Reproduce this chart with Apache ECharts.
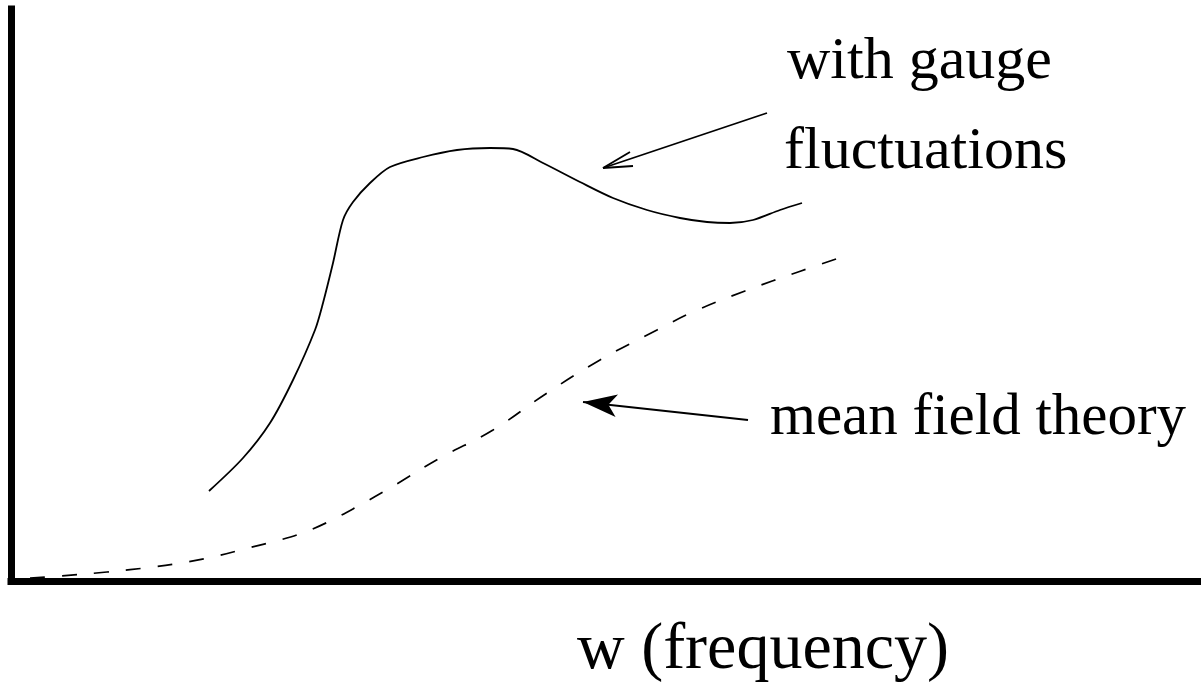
<!DOCTYPE html>
<html>
<head>
<meta charset="utf-8">
<title>w (frequency)</title>
<script src="https://cdn.jsdelivr.net/npm/echarts@6/dist/echarts.min.js"></script>
<style>
  html, body { margin: 0; padding: 0; background: #fff; }
  #main { width: 1201px; height: 682px; }
</style>
</head>
<body>
<div id="main"></div>
<script>
  // curve with gauge fluctuations: [w, response] (arbitrary units)
  var gaugeW = [198, 232, 259, 282, 304, 312, 322, 332, 342, 359, 379, 412, 446, 479, 502, 532, 569, 602, 636, 669, 696, 719, 742, 769, 791];
  var gaugeY = [90, 123, 158, 201, 251, 278, 318, 361, 379, 398, 414, 424, 431, 433, 432, 418, 399, 383, 371, 363, 359, 358, 361, 371, 378];
  // mean field theory curve
  var mftW = [19, 49, 96, 142, 176, 206, 237, 269, 294, 319, 349, 379, 429, 482, 536, 589, 646, 684, 734, 790, 834];
  var mftY = [3, 5, 9, 14, 19, 25, 33, 41, 49, 60, 76, 93, 123, 151, 188, 221, 251, 270, 290, 310, 325];

  // annotation arrows (same units): tail -> tip
  var arrowGauge = [[756, 468], [592, 413]];
  var arrowGaugeHead = [[619, 429], [622, 415]];
  var arrowMft = [[737, 161], [572, 179]];

  var labelGauge = ['with gauge', 'fluctuations'];
  var labelMft = 'mean field theory';
  var labelX = 'w (frequency)';

  function pairs(xs, ys) {
    var out = [];
    for (var i = 0; i < xs.length; i++) out.push([xs[i], ys[i]]);
    return out;
  }

  var serif = '"Liberation Serif", "DejaVu Serif", serif';
  var black = '#000';
  var solid = { type: 'solid', color: black, width: 1.8 };

  var myChart = echarts.init(document.getElementById('main'));
  var option = {
    animation: false,
    grid: { left: 11, right: 0, top: 9, bottom: 101 },
    xAxis: {
      type: 'value', min: 0, max: 1190,
      axisLine: { show: true, lineStyle: { color: black, width: 7, cap: 'square' } },
      axisTick: { show: false }, axisLabel: { show: false }, splitLine: { show: false }
    },
    yAxis: {
      type: 'value', min: 0, max: 572,
      axisLine: { show: true, lineStyle: { color: black, width: 7, cap: 'square' } },
      axisTick: { show: false }, axisLabel: { show: false }, splitLine: { show: false }
    },
    series: [
      {
        name: 'with gauge fluctuations',
        type: 'line',
        data: pairs(gaugeW, gaugeY),
        smooth: 0.3,
        symbol: 'none',
        lineStyle: solid,
        markLine: {
          silent: true,
          symbol: ['none', 'none'],
          label: { show: false },
          lineStyle: solid,
          data: [
            [{ coord: arrowGauge[0] }, { coord: arrowGauge[1] }],
            [{ coord: arrowGauge[1] }, { coord: arrowGaugeHead[0] }],
            [{ coord: arrowGauge[1] }, { coord: arrowGaugeHead[1] }]
          ]
        }
      },
      {
        name: 'mean field theory',
        type: 'line',
        data: pairs(mftW, mftY),
        smooth: 0.4,
        symbol: 'none',
        lineStyle: { type: [15, 17], color: black, width: 1.7 },
        markLine: {
          silent: true,
          symbol: ['none', 'arrow'],
          symbolSize: [17, 34],
          label: { show: false },
          lineStyle: solid,
          data: [
            [{ coord: arrowMft[0] }, { coord: arrowMft[1] }]
          ]
        }
      }
    ],
    graphic: [
      { type: 'text', left: 787, top: 32, style: { text: labelGauge[0], font: '60px ' + serif, fill: black } },
      { type: 'text', left: 784, top: 122, style: { text: labelGauge[1], font: '60px ' + serif, fill: black } },
      { type: 'text', left: 770, top: 389, style: { text: labelMft, font: '59px ' + serif, fill: black } },
      { type: 'text', left: 577, top: 618, style: { text: labelX, font: '66px ' + serif, fill: black } }
    ]
  };
  myChart.setOption(option);
  window.addEventListener('resize', function () { myChart.resize(); });
</script>
</body>
</html>
